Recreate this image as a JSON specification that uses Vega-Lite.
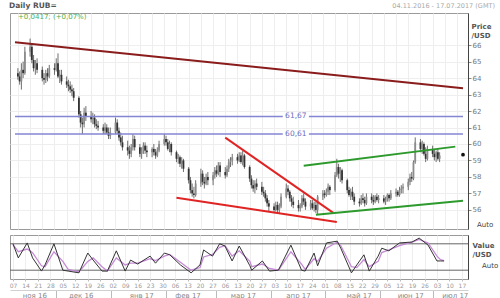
{
"$schema":"https://vega.github.io/schema/vega-lite/v6.json",
"padding":{"left":8,"top":1,"right":2,"bottom":0},
"background":"white",
"spacing":4,
"config":{"font":"DejaVu Sans","view":{"stroke":"#9a9a9a","strokeWidth":1},"axis":{"labelFont":"DejaVu Sans","titleFont":"DejaVu Sans"}},
"datasets":{
"candles":[
{"d":"2016-11-07","o":64.3,"h":64.6,"l":63.9,"c":64.1},{"d":"2016-11-08","o":64.1,"h":64.4,"l":63.6,"c":63.8},{"d":"2016-11-09","o":63.8,"h":64.9,"l":63.3,"c":64.5},{"d":"2016-11-10","o":64.5,"h":65.0,"l":64.0,"c":64.3},{"d":"2016-11-11","o":64.3,"h":65.9,"l":64.2,"c":65.6},
{"d":"2016-11-14","o":65.6,"h":66.4,"l":65.3,"c":65.9},{"d":"2016-11-15","o":65.9,"h":66.1,"l":64.9,"c":65.1},{"d":"2016-11-16","o":65.1,"h":65.4,"l":64.4,"c":64.6},{"d":"2016-11-17","o":64.6,"h":65.1,"l":64.2,"c":64.9},{"d":"2016-11-18","o":64.9,"h":65.2,"l":64.3,"c":64.5},
{"d":"2016-11-21","o":64.5,"h":64.7,"l":63.8,"c":64.0},{"d":"2016-11-22","o":64.0,"h":64.3,"l":63.6,"c":63.9},{"d":"2016-11-23","o":63.9,"h":64.5,"l":63.7,"c":64.3},{"d":"2016-11-24","o":64.3,"h":64.6,"l":63.8,"c":64.1},{"d":"2016-11-25","o":64.1,"h":64.8,"l":64.0,"c":64.6},
{"d":"2016-11-28","o":64.6,"h":64.9,"l":64.2,"c":64.5},{"d":"2016-11-29","o":64.5,"h":65.2,"l":64.4,"c":64.9},{"d":"2016-11-30","o":64.9,"h":65.5,"l":64.0,"c":64.1},{"d":"2016-12-01","o":64.1,"h":64.5,"l":63.7,"c":64.2},{"d":"2016-12-02","o":64.2,"h":64.5,"l":63.6,"c":63.8},
{"d":"2016-12-05","o":63.8,"h":64.1,"l":63.4,"c":63.6},{"d":"2016-12-06","o":63.6,"h":63.9,"l":63.2,"c":63.5},{"d":"2016-12-07","o":63.5,"h":63.8,"l":63.1,"c":63.3},{"d":"2016-12-08","o":63.3,"h":63.6,"l":62.9,"c":63.2},{"d":"2016-12-09","o":63.2,"h":63.4,"l":62.6,"c":62.8},
{"d":"2016-12-12","o":62.8,"h":62.9,"l":61.6,"c":61.8},{"d":"2016-12-13","o":61.8,"h":62.0,"l":61.0,"c":61.3},{"d":"2016-12-14","o":61.3,"h":61.6,"l":60.6,"c":61.2},{"d":"2016-12-15","o":61.2,"h":62.2,"l":61.0,"c":61.9},{"d":"2016-12-16","o":61.9,"h":62.3,"l":61.4,"c":61.7},
{"d":"2016-12-19","o":61.7,"h":62.0,"l":61.3,"c":61.5},{"d":"2016-12-20","o":61.5,"h":61.9,"l":61.2,"c":61.6},{"d":"2016-12-21","o":61.6,"h":61.8,"l":61.0,"c":61.2},{"d":"2016-12-22","o":61.2,"h":61.5,"l":60.9,"c":61.1},{"d":"2016-12-23","o":61.1,"h":61.4,"l":60.8,"c":61.0},
{"d":"2016-12-26","o":61.0,"h":61.2,"l":60.6,"c":60.8},{"d":"2016-12-27","o":60.8,"h":61.3,"l":60.6,"c":61.0},{"d":"2016-12-28","o":61.0,"h":61.2,"l":60.6,"c":60.7},{"d":"2016-12-29","o":60.7,"h":61.0,"l":60.3,"c":60.5},{"d":"2016-12-30","o":60.5,"h":61.0,"l":60.3,"c":60.7},
{"d":"2017-01-02","o":60.7,"h":61.6,"l":60.6,"c":61.3},{"d":"2017-01-03","o":61.3,"h":61.5,"l":60.6,"c":60.8},{"d":"2017-01-04","o":60.8,"h":61.0,"l":60.2,"c":60.4},{"d":"2017-01-05","o":60.4,"h":60.7,"l":59.9,"c":60.1},{"d":"2017-01-06","o":60.1,"h":60.5,"l":59.6,"c":59.8},
{"d":"2017-01-09","o":59.8,"h":60.2,"l":59.3,"c":59.6},{"d":"2017-01-10","o":59.6,"h":59.9,"l":59.1,"c":59.4},{"d":"2017-01-11","o":59.4,"h":60.0,"l":59.2,"c":59.8},{"d":"2017-01-12","o":59.8,"h":60.6,"l":59.6,"c":60.3},{"d":"2017-01-13","o":60.3,"h":60.5,"l":59.6,"c":59.8},
{"d":"2017-01-16","o":59.8,"h":60.0,"l":59.2,"c":59.4},{"d":"2017-01-17","o":59.4,"h":59.8,"l":59.1,"c":59.6},{"d":"2017-01-18","o":59.6,"h":60.1,"l":59.4,"c":59.9},{"d":"2017-01-19","o":59.9,"h":60.1,"l":59.4,"c":59.6},{"d":"2017-01-20","o":59.6,"h":59.9,"l":59.2,"c":59.5},
{"d":"2017-01-23","o":59.5,"h":59.8,"l":59.2,"c":59.7},{"d":"2017-01-24","o":59.7,"h":60.0,"l":59.3,"c":59.5},{"d":"2017-01-25","o":59.5,"h":59.7,"l":59.1,"c":59.3},{"d":"2017-01-26","o":59.3,"h":59.8,"l":59.2,"c":59.6},{"d":"2017-01-27","o":59.6,"h":60.2,"l":59.5,"c":60.0},
{"d":"2017-01-30","o":60.0,"h":60.6,"l":59.9,"c":60.3},{"d":"2017-01-31","o":60.3,"h":60.5,"l":59.9,"c":60.1},{"d":"2017-02-01","o":60.1,"h":60.3,"l":59.6,"c":59.7},{"d":"2017-02-02","o":59.7,"h":60.2,"l":59.5,"c":60.0},{"d":"2017-02-03","o":60.0,"h":60.1,"l":59.3,"c":59.5},
{"d":"2017-02-06","o":59.5,"h":59.6,"l":58.9,"c":59.1},{"d":"2017-02-07","o":59.1,"h":59.4,"l":58.8,"c":59.2},{"d":"2017-02-08","o":59.2,"h":59.3,"l":58.6,"c":58.8},{"d":"2017-02-09","o":58.8,"h":59.2,"l":58.5,"c":59.0},{"d":"2017-02-10","o":59.0,"h":59.1,"l":58.3,"c":58.5},
{"d":"2017-02-13","o":58.5,"h":58.6,"l":57.6,"c":57.8},{"d":"2017-02-14","o":57.8,"h":58.0,"l":57.0,"c":57.2},{"d":"2017-02-15","o":57.2,"h":57.6,"l":56.8,"c":57.0},{"d":"2017-02-16","o":57.0,"h":57.4,"l":56.7,"c":56.9},{"d":"2017-02-17","o":56.9,"h":57.8,"l":56.8,"c":57.6},
{"d":"2017-02-20","o":57.6,"h":58.5,"l":57.4,"c":58.2},{"d":"2017-02-21","o":58.2,"h":58.4,"l":57.5,"c":57.7},{"d":"2017-02-22","o":57.7,"h":58.0,"l":57.3,"c":57.6},{"d":"2017-02-23","o":57.6,"h":58.2,"l":57.5,"c":58.0},{"d":"2017-02-24","o":58.0,"h":58.3,"l":57.5,"c":57.8},
{"d":"2017-02-27","o":57.8,"h":58.3,"l":57.5,"c":58.1},{"d":"2017-02-28","o":58.1,"h":58.6,"l":57.9,"c":58.4},{"d":"2017-03-01","o":58.4,"h":58.7,"l":58.0,"c":58.2},{"d":"2017-03-02","o":58.2,"h":58.9,"l":58.1,"c":58.7},{"d":"2017-03-03","o":58.7,"h":58.9,"l":58.0,"c":58.3},
{"d":"2017-03-06","o":58.3,"h":58.6,"l":57.9,"c":58.1},{"d":"2017-03-07","o":58.1,"h":58.7,"l":58.0,"c":58.5},{"d":"2017-03-08","o":58.5,"h":59.1,"l":58.3,"c":58.9},{"d":"2017-03-09","o":58.9,"h":59.2,"l":58.6,"c":59.0},{"d":"2017-03-10","o":59.0,"h":59.4,"l":58.7,"c":59.2},
{"d":"2017-03-13","o":59.2,"h":59.4,"l":58.8,"c":59.0},{"d":"2017-03-14","o":59.0,"h":59.5,"l":58.9,"c":59.3},{"d":"2017-03-15","o":59.3,"h":59.5,"l":58.8,"c":58.9},{"d":"2017-03-16","o":58.9,"h":59.6,"l":58.7,"c":59.3},{"d":"2017-03-17","o":59.3,"h":59.4,"l":58.5,"c":58.6},
{"d":"2017-03-20","o":58.6,"h":58.7,"l":57.7,"c":57.9},{"d":"2017-03-21","o":57.9,"h":58.1,"l":57.3,"c":57.5},{"d":"2017-03-22","o":57.5,"h":57.8,"l":57.1,"c":57.3},{"d":"2017-03-23","o":57.3,"h":57.8,"l":57.0,"c":57.6},{"d":"2017-03-24","o":57.6,"h":57.9,"l":57.2,"c":57.4},
{"d":"2017-03-27","o":57.4,"h":57.7,"l":56.9,"c":57.1},{"d":"2017-03-28","o":57.1,"h":57.4,"l":56.8,"c":57.0},{"d":"2017-03-29","o":57.0,"h":57.2,"l":56.5,"c":56.7},{"d":"2017-03-30","o":56.7,"h":56.9,"l":56.2,"c":56.4},{"d":"2017-03-31","o":56.4,"h":56.6,"l":55.9,"c":56.2},
{"d":"2017-04-03","o":56.2,"h":56.4,"l":55.8,"c":56.0},{"d":"2017-04-04","o":56.0,"h":56.5,"l":55.9,"c":56.3},{"d":"2017-04-05","o":56.3,"h":56.5,"l":55.8,"c":56.0},{"d":"2017-04-06","o":56.0,"h":56.4,"l":55.8,"c":56.2},{"d":"2017-04-07","o":56.2,"h":57.0,"l":56.1,"c":56.8},
{"d":"2017-04-10","o":56.8,"h":57.6,"l":56.7,"c":57.3},{"d":"2017-04-11","o":57.3,"h":57.5,"l":56.9,"c":57.1},{"d":"2017-04-12","o":57.1,"h":57.2,"l":56.5,"c":56.7},{"d":"2017-04-13","o":56.7,"h":56.9,"l":56.2,"c":56.5},{"d":"2017-04-14","o":56.5,"h":56.8,"l":56.1,"c":56.3},
{"d":"2017-04-17","o":56.3,"h":56.6,"l":55.9,"c":56.1},{"d":"2017-04-18","o":56.1,"h":56.4,"l":55.9,"c":56.2},{"d":"2017-04-19","o":56.2,"h":56.9,"l":56.1,"c":56.7},{"d":"2017-04-20","o":56.7,"h":57.0,"l":56.3,"c":56.5},{"d":"2017-04-21","o":56.5,"h":56.7,"l":56.0,"c":56.2},
{"d":"2017-04-24","o":56.2,"h":56.6,"l":56.0,"c":56.4},{"d":"2017-04-25","o":56.4,"h":56.6,"l":56.0,"c":56.1},{"d":"2017-04-26","o":56.1,"h":56.5,"l":55.9,"c":56.3},{"d":"2017-04-27","o":56.3,"h":56.5,"l":55.8,"c":56.0},{"d":"2017-04-28","o":56.0,"h":56.9,"l":55.75,"c":56.8},
{"d":"2017-05-01","o":56.8,"h":57.2,"l":56.6,"c":57.0},{"d":"2017-05-02","o":57.0,"h":57.2,"l":56.7,"c":56.9},{"d":"2017-05-03","o":56.9,"h":57.3,"l":56.8,"c":57.1},{"d":"2017-05-04","o":57.1,"h":57.6,"l":56.9,"c":57.4},{"d":"2017-05-05","o":57.4,"h":57.5,"l":56.9,"c":57.2},
{"d":"2017-05-08","o":57.2,"h":58.3,"l":57.1,"c":58.1},{"d":"2017-05-09","o":58.1,"h":59.1,"l":58.0,"c":58.6},{"d":"2017-05-10","o":58.6,"h":58.8,"l":57.9,"c":58.2},{"d":"2017-05-11","o":58.2,"h":58.6,"l":57.7,"c":58.4},{"d":"2017-05-12","o":58.4,"h":58.5,"l":57.6,"c":57.8},
{"d":"2017-05-15","o":57.8,"h":57.9,"l":57.0,"c":57.2},{"d":"2017-05-16","o":57.2,"h":57.4,"l":56.8,"c":56.9},{"d":"2017-05-17","o":56.9,"h":57.3,"l":56.6,"c":57.1},{"d":"2017-05-18","o":57.1,"h":57.4,"l":56.6,"c":56.8},{"d":"2017-05-19","o":56.8,"h":57.0,"l":56.3,"c":56.5},
{"d":"2017-05-22","o":56.5,"h":56.7,"l":56.2,"c":56.4},{"d":"2017-05-23","o":56.4,"h":56.9,"l":56.3,"c":56.7},{"d":"2017-05-24","o":56.7,"h":57.0,"l":56.4,"c":56.6},{"d":"2017-05-25","o":56.6,"h":56.8,"l":56.2,"c":56.4},{"d":"2017-05-26","o":56.4,"h":57.0,"l":56.3,"c":56.8},
{"d":"2017-05-29","o":56.8,"h":57.0,"l":56.4,"c":56.6},{"d":"2017-05-30","o":56.6,"h":56.9,"l":56.3,"c":56.5},{"d":"2017-05-31","o":56.5,"h":56.9,"l":56.4,"c":56.8},{"d":"2017-06-01","o":56.8,"h":57.0,"l":56.5,"c":56.6},{"d":"2017-06-02","o":56.6,"h":56.9,"l":56.4,"c":56.7},
{"d":"2017-06-05","o":56.7,"h":56.9,"l":56.4,"c":56.5},{"d":"2017-06-06","o":56.5,"h":56.8,"l":56.3,"c":56.6},{"d":"2017-06-07","o":56.6,"h":57.0,"l":56.5,"c":56.9},{"d":"2017-06-08","o":56.9,"h":57.0,"l":56.5,"c":56.7},{"d":"2017-06-09","o":56.7,"h":57.2,"l":56.6,"c":57.0},
{"d":"2017-06-12","o":57.0,"h":57.3,"l":56.8,"c":57.1},{"d":"2017-06-13","o":57.1,"h":57.2,"l":56.8,"c":56.9},{"d":"2017-06-14","o":56.9,"h":57.4,"l":56.8,"c":57.2},{"d":"2017-06-15","o":57.2,"h":57.5,"l":57.0,"c":57.3},{"d":"2017-06-16","o":57.3,"h":57.6,"l":57.0,"c":57.4},
{"d":"2017-06-19","o":57.4,"h":57.9,"l":57.2,"c":57.7},{"d":"2017-06-20","o":57.7,"h":58.2,"l":57.5,"c":58.0},{"d":"2017-06-21","o":58.0,"h":58.3,"l":57.7,"c":57.9},{"d":"2017-06-22","o":57.9,"h":59.0,"l":57.8,"c":58.9},{"d":"2017-06-23","o":58.9,"h":60.4,"l":58.8,"c":60.1},
{"d":"2017-06-26","o":60.1,"h":60.3,"l":59.5,"c":59.7},{"d":"2017-06-27","o":59.7,"h":60.2,"l":59.4,"c":60.0},{"d":"2017-06-28","o":60.0,"h":60.1,"l":59.3,"c":59.4},{"d":"2017-06-29","o":59.4,"h":59.8,"l":58.9,"c":59.1},{"d":"2017-06-30","o":59.1,"h":59.9,"l":59.0,"c":59.7},
{"d":"2017-07-03","o":59.7,"h":59.9,"l":59.2,"c":59.4},{"d":"2017-07-04","o":59.4,"h":59.7,"l":59.0,"c":59.2},{"d":"2017-07-05","o":59.2,"h":59.6,"l":58.9,"c":59.5},{"d":"2017-07-06","o":59.5,"h":59.7,"l":59.0,"c":59.1},{"d":"2017-07-07","o":59.1,"h":59.5,"l":58.9,"c":59.3}
],
"trend":[
{"id":"resist","a":"2016-11-05T08:00:00Z","p1":66.18,"b":"2017-07-20T10:00:00Z","p2":63.38},
{"id":"wedge","a":"2017-03-06","p1":60.39,"b":"2017-05-07","p2":55.82},
{"id":"wedge","a":"2017-02-06","p1":56.73,"b":"2017-05-09","p2":55.27},
{"id":"channel","a":"2017-04-20","p1":58.68,"b":"2017-07-16","p2":59.84},
{"id":"channel","a":"2017-04-27","p1":55.7,"b":"2017-07-20T10:00:00Z","p2":56.55}
],
"levels":[
{"v":61.67,"a":"2016-11-05T08:00:00Z","b":"2017-04-08"},
{"v":61.67,"a":"2017-04-23","b":"2017-07-20T10:00:00Z"},
{"v":60.61,"a":"2016-11-05T08:00:00Z","b":"2017-04-08"},
{"v":60.61,"a":"2017-04-23","b":"2017-07-20T10:00:00Z"}
],
"levelLabels":[
{"v":61.67,"d":"2017-04-15T12:00:00Z","t":"61,67"},
{"v":60.61,"d":"2017-04-15T12:00:00Z","t":"60,61"}
],
"stoch":[
{"d":"2016-11-07","k":80,"s":78},{"d":"2016-11-10","k":48,"s":62},{"d":"2016-11-15","k":82,"s":68},{"d":"2016-11-18","k":48,"s":60},{"d":"2016-11-23","k":18,"s":30},{"d":"2016-11-25","k":32,"s":28},{"d":"2016-11-30","k":80,"s":62},{"d":"2016-12-05","k":20,"s":40},{"d":"2016-12-08","k":18,"s":22},{"d":"2016-12-14","k":14,"s":16},{"d":"2016-12-19","k":59,"s":40},{"d":"2016-12-22","k":43,"s":48},{"d":"2016-12-27","k":18,"s":28},{"d":"2016-12-30","k":18,"s":18},
{"d":"2017-01-04","k":64,"s":48},{"d":"2017-01-09","k":18,"s":32},{"d":"2017-01-12","k":43,"s":36},{"d":"2017-01-16","k":34,"s":36},{"d":"2017-01-23","k":52,"s":46},{"d":"2017-01-26","k":36,"s":42},{"d":"2017-01-31","k":59,"s":52},{"d":"2017-02-03","k":55,"s":56},{"d":"2017-02-09","k":32,"s":38},{"d":"2017-02-15","k":14,"s":20},{"d":"2017-02-20","k":32,"s":26},{"d":"2017-02-22","k":66,"s":50},{"d":"2017-02-27","k":52,"s":56},{"d":"2017-03-03","k":80,"s":72},{"d":"2017-03-06","k":75,"s":76},{"d":"2017-03-10","k":41,"s":52},{"d":"2017-03-14","k":75,"s":64},{"d":"2017-03-20","k":30,"s":40},{"d":"2017-03-21","k":20,"s":28},{"d":"2017-03-27","k":41,"s":34},{"d":"2017-03-31","k":18,"s":24},
{"d":"2017-04-05","k":20,"s":20},{"d":"2017-04-12","k":77,"s":62},{"d":"2017-04-18","k":20,"s":34},{"d":"2017-04-20","k":18,"s":22},{"d":"2017-04-25","k":59,"s":46},{"d":"2017-04-27","k":30,"s":40},{"d":"2017-05-02","k":82,"s":70},{"d":"2017-05-08","k":86,"s":84},{"d":"2017-05-10","k":70,"s":76},{"d":"2017-05-16","k":14,"s":28},{"d":"2017-05-19","k":32,"s":26},{"d":"2017-05-23","k":55,"s":44},{"d":"2017-05-26","k":18,"s":28},{"d":"2017-05-31","k":52,"s":40},{"d":"2017-06-02","k":70,"s":60},{"d":"2017-06-06","k":64,"s":66},{"d":"2017-06-12","k":82,"s":76},{"d":"2017-06-19","k":84,"s":84},{"d":"2017-06-23","k":93,"s":90},{"d":"2017-06-28","k":77,"s":82},{"d":"2017-07-03","k":41,"s":52},{"d":"2017-07-05","k":41,"s":44},{"d":"2017-07-07","k":41,"s":42}
],
"osc":[{"v":80},{"v":20}],
"months":[{"m":1479513600000},{"m":1481760000000},{"m":1484697600000},{"m":1486944000000},{"m":1489622400000},{"m":1492300800000},{"m":1495238400000},{"m":1497744000000},{"m":1499904000000}],
"header":[
{"d":"2016-11-05T08:00:00Z","p":68.4,"t":"Daily RUB="},
{"d":"2017-07-20T10:00:00Z","p":68.4,"t":"04.11.2016 - 17.07.2017 (GMT)"}
],
"autoLabels":[
{"d":"2017-07-20T10:00:00Z","v":30,"t":"Auto"}
]
},
"vconcat":[
{
"width":458,"height":216,
"resolve":{"axis":{"x":"independent","y":"independent"}},
"layer":[
{"data":{"name":"candles"},"mark":{"type":"rule","color":"#4a4a4a","strokeWidth":0.8},
 "encoding":{
  "x":{"field":"d","type":"temporal","scale":{"type":"utc","domain":[1478332800000,1500544800000]},
   "axis":{"orient":"bottom","values":[1478476800000,1479081600000,1479686400000,1480291200000,1480896000000,1481500800000,1482105600000,1482710400000,1483315200000,1483920000000,1484524800000,1485129600000,1485734400000,1486339200000,1486944000000,1487548800000,1488153600000,1488758400000,1489363200000,1489968000000,1490572800000,1491177600000,1491782400000,1492387200000,1492992000000,1493596800000,1494201600000,1494806400000,1495411200000,1496016000000,1496620800000,1497225600000,1497830400000,1498435200000,1499040000000,1499644800000,1500249600000],"labels":false,"ticks":false,"domain":false,"grid":true,"gridColor":"#eeeeee","title":null}},
  "y":{"field":"l","type":"quantitative","scale":{"domain":[54.84,67.95],"zero":false,"nice":false},
   "axis":{"orient":"right","values":[56,57,58,59,60,61,62,63,64,65,66],"grid":true,"gridColor":"#eeeeee","labelFontSize":7,"labelColor":"#777","tickSize":3,"tickColor":"#888","domainColor":"#444","labelPadding":1,"title":["Price","/USD"],"titleAngle":0,"titleAlign":"left","titleBaseline":"top","titleX":3,"titleY":9,"titleFontSize":7,"titleColor":"#555","titleFontWeight":"bold","titleLineHeight":9}},
  "y2":{"field":"h"}}},
{"data":{"name":"candles"},"mark":{"type":"bar","width":1.8},
 "encoding":{
  "x":{"field":"d","type":"temporal","scale":{"type":"utc","domain":[1478332800000,1500544800000]},"axis":null},
  "y":{"field":"o","type":"quantitative","scale":{"domain":[54.84,67.95],"zero":false,"nice":false},"axis":null},
  "y2":{"field":"c"},
  "color":{"condition":{"test":"datum.c >= datum.o","value":"#8c8c8c"},"value":"#333333"}}},
{"data":{"name":"levels"},"mark":{"type":"rule","color":"#8585d6","strokeWidth":1.5},
 "encoding":{
  "x":{"field":"a","type":"temporal","scale":{"type":"utc","domain":[1478332800000,1500544800000]},"axis":null},
  "x2":{"field":"b"},
  "y":{"field":"v","type":"quantitative","scale":{"domain":[54.84,67.95],"zero":false,"nice":false},"axis":null}}},
{"data":{"name":"levelLabels"},"mark":{"type":"text","color":"#6a6ac0","fontSize":7.5,"align":"center","baseline":"middle"},
 "encoding":{
  "x":{"field":"d","type":"temporal","scale":{"type":"utc","domain":[1478332800000,1500544800000]},"axis":null},
  "y":{"field":"v","type":"quantitative","scale":{"domain":[54.84,67.95],"zero":false,"nice":false},"axis":null},
  "text":{"field":"t"}}},
{"data":{"name":"trend"},"mark":{"type":"rule","strokeWidth":2},
 "encoding":{
  "x":{"field":"a","type":"temporal","scale":{"type":"utc","domain":[1478332800000,1500544800000]},"axis":null},
  "x2":{"field":"b"},
  "y":{"field":"p1","type":"quantitative","scale":{"domain":[54.84,67.95],"zero":false,"nice":false},"axis":null},
  "y2":{"field":"p2"},
  "color":{"field":"id","type":"nominal","scale":{"domain":["resist","wedge","channel"],"range":["#8a1c1c","#e02424","#2c9a2c"]},"legend":null}}},
{"data":{"values":[{"d":"2016-11-05T08:00:00Z","p":67.72,"t":"+0,0417; (+0,07%)"}]},"mark":{"type":"text","color":"#4caf50","fontSize":7,"align":"left","baseline":"middle","dx":3},
 "encoding":{
  "x":{"field":"d","type":"temporal","scale":{"type":"utc","domain":[1478332800000,1500544800000]},"axis":null},
  "y":{"field":"p","type":"quantitative","scale":{"domain":[54.84,67.95],"zero":false,"nice":false},"axis":null},
  "text":{"field":"t"}}},
{"data":{"name":"header"},"transform":[{"filter":"datum.t == 'Daily RUB='"}],"mark":{"type":"text","color":"#555","fontSize":7.5,"fontWeight":"bold","align":"left","baseline":"middle","dx":-6},
 "encoding":{
  "x":{"field":"d","type":"temporal","scale":{"type":"utc","domain":[1478332800000,1500544800000]},"axis":null},
  "y":{"field":"p","type":"quantitative","scale":{"domain":[54.84,67.95],"zero":false,"nice":false},"axis":null},
  "text":{"field":"t"}}},
{"data":{"name":"header"},"transform":[{"filter":"datum.t != 'Daily RUB='"}],"mark":{"type":"text","color":"#aaaaaa","fontSize":6.5,"align":"right","baseline":"middle","dx":32},
 "encoding":{
  "x":{"field":"d","type":"temporal","scale":{"type":"utc","domain":[1478332800000,1500544800000]},"axis":null},
  "y":{"field":"p","type":"quantitative","scale":{"domain":[54.84,67.95],"zero":false,"nice":false},"axis":null},
  "text":{"field":"t"}}},
{"data":{"values":[{"d":"2017-07-20T10:00:00Z","p":59.35}]},"mark":{"type":"point","filled":true,"color":"#111","size":14,"opacity":1},
 "encoding":{
  "x":{"field":"d","type":"temporal","scale":{"type":"utc","domain":[1478332800000,1500544800000]},"axis":null},
  "y":{"field":"p","type":"quantitative","scale":{"domain":[54.84,67.95],"zero":false,"nice":false},"axis":null}}},
{"data":{"values":[{"d":"2017-07-20T10:00:00Z","p":54.84,"t":"Auto"}]},"mark":{"type":"text","color":"#444","fontSize":7,"align":"left","baseline":"bottom","dx":14,"dy":-1},
 "encoding":{
  "x":{"field":"d","type":"temporal","scale":{"type":"utc","domain":[1478332800000,1500544800000]},"axis":null},
  "y":{"field":"p","type":"quantitative","scale":{"domain":[54.84,67.95],"zero":false,"nice":false},"axis":null},
  "text":{"field":"t"}}}
]
},
{
"width":458,"height":44,
"resolve":{"axis":{"x":"independent","y":"independent"}},
"layer":[
{"data":{"name":"osc"},"mark":{"type":"rule","color":"#666","strokeWidth":1},
 "encoding":{
  "y":{"field":"v","type":"quantitative","scale":{"domain":[0,100],"nice":false},
   "axis":{"orient":"right","labels":false,"ticks":false,"grid":false,"domainColor":"#444","title":["Value","/USD"],"titleAngle":0,"titleAlign":"left","titleBaseline":"top","titleX":4,"titleY":6,"titleFontSize":7,"titleColor":"#555","titleFontWeight":"bold","titleLineHeight":9}}}},
{"data":{"name":"autoLabels"},"mark":{"type":"text","color":"#444","fontSize":7,"align":"left","baseline":"middle","dx":14},
 "encoding":{
  "x":{"field":"d","type":"temporal","scale":{"type":"utc","domain":[1478332800000,1500544800000]},"axis":null},
  "y":{"field":"v","type":"quantitative","scale":{"domain":[0,100],"nice":false},"axis":null},
  "text":{"field":"t"}}},
{"data":{"name":"stoch"},"mark":{"type":"line","color":"#c58ad6","strokeWidth":1.3},
 "encoding":{
  "x":{"field":"d","type":"temporal","scale":{"type":"utc","domain":[1478332800000,1500544800000]},
   "axis":{"orient":"bottom","values":[1480550400000,1483228800000,1485907200000,1488326400000,1491004800000,1493596800000,1496275200000,1498867200000],"labels":false,"ticks":true,"tickSize":8,"tickColor":"#bbbbbb","domain":false,"grid":false,"offset":11,"title":null}},
  "y":{"field":"s","type":"quantitative","scale":{"domain":[0,100],"nice":false},"axis":null}}},
{"data":{"name":"stoch"},"mark":{"type":"line","color":"#333333","strokeWidth":1},
 "encoding":{
  "x":{"field":"d","type":"temporal","scale":{"type":"utc","domain":[1478332800000,1500544800000]},
   "axis":{"orient":"bottom","values":[1478476800000,1479081600000,1479686400000,1480291200000,1480896000000,1481500800000,1482105600000,1482710400000,1483315200000,1483920000000,1484524800000,1485129600000,1485734400000,1486339200000,1486944000000,1487548800000,1488153600000,1488758400000,1489363200000,1489968000000,1490572800000,1491177600000,1491782400000,1492387200000,1492992000000,1493596800000,1494201600000,1494806400000,1495411200000,1496016000000,1496620800000,1497225600000,1497830400000,1498435200000,1499040000000,1499644800000,1500249600000],"format":"%d","labelFontSize":6,"labelColor":"#999","labelOverlap":false,"labelPadding":1,"tickSize":2,"tickColor":"#bbb","domain":false,"grid":true,"gridColor":"#eeeeee","title":null}},
  "y":{"field":"k","type":"quantitative","scale":{"domain":[0,100],"nice":false},"axis":null}}},
{"data":{"name":"months"},"mark":{"type":"point","opacity":0},
 "encoding":{
  "x":{"field":"m","type":"temporal","scale":{"type":"utc","domain":[1478332800000,1500544800000]},
   "axis":{"orient":"bottom","values":[1479513600000,1481760000000,1484697600000,1486944000000,1489622400000,1492300800000,1495238400000,1497744000000,1499904000000],"labelExpr":"['янв','фев','мар','апр','май','июн','июл','авг','сен','окт','ноя','дек'][utcmonth(datum.value)] + ' ' + utcFormat(datum.value, '%y')","labelFontSize":7,"labelColor":"#888","labelOverlap":false,"labelPadding":1,"ticks":false,"domain":true,"domainColor":"#d0d0d0","grid":false,"offset":11,"title":null}}}}
]
}
]
}
